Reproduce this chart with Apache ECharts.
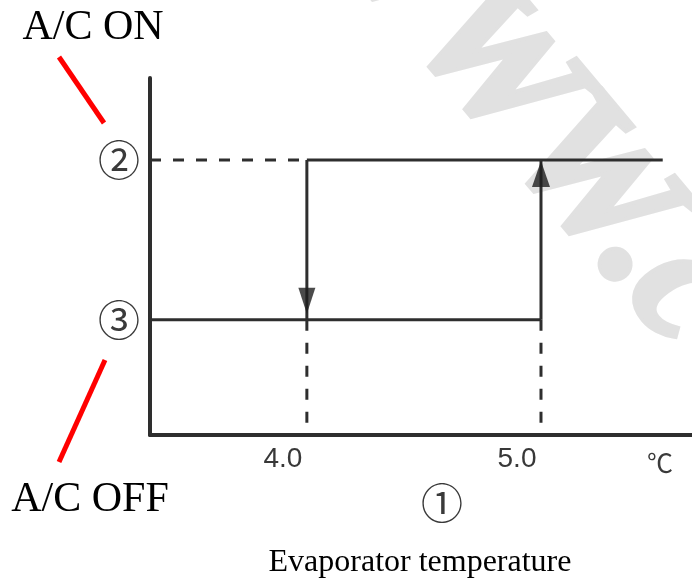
<!DOCTYPE html>
<html>
<head>
<meta charset="utf-8">
<script src="https://cdn.jsdelivr.net/npm/echarts@6/dist/echarts.min.js"></script>
<style>html,body{margin:0;padding:0;background:#fff}#c{width:692px;height:580px}</style>
</head>
<body>
<div id="c"></div>
<script>
// ---- data ----
const xTickValues = [4.0, 5.0];
const xTickLabels = ['4.0', '5.0'];
const xUnit = '℃';
const yStateValues = [0, 1];
const yStateLabels = ['③', '②'];
const xRange = [3.33, 5.645];
const yRange = [-0.72, 1.5125];
const onSolid = [[4.0, 1], [5.52, 1]];
const onDashed = [[3.33, 1], [4.0, 1]];
const offSolid = [[3.33, 0], [5.0, 0]];
const turnOff = [[4.0, 1], [4.0, 0]];
const turnOn = [[5.0, 0], [5.0, 1]];
const drop4 = [[4.0, 0], [4.0, -0.66]];
const drop5 = [[5.0, 0], [5.0, -0.66]];
const arrowDown = [[4.0, 0]];
const arrowUp = [[5.0, 1]];
const onLabel = 'A/C ON';
const offLabel = 'A/C OFF';
const xCaption = 'Evaporator temperature';
const xMarker = '①';
const watermark = 'WWW.c';

const ink = '#2e2e2e';
function seg(data, dashed) {
  return {
    type: 'line', data: data, symbol: 'none', silent: true, z: 3,
    lineStyle: { color: ink, width: 3, type: dashed ? [11, 12] : 'solid' },
    animation: false
  };
}
const chart = echarts.init(document.getElementById('c'), null, { renderer: 'canvas' });
chart.setOption({
  animation: false,
  grid: { left: 150, right: 0, top: 78, bottom: 145, containLabel: false },
  xAxis: {
    type: 'value', min: xRange[0], max: xRange[1],
    splitLine: { show: false },
    axisTick: { show: false },
    axisLine: { onZero: false, lineStyle: { color: ink, width: 4 } },
    axisLabel: {
      customValues: xTickValues,
      formatter: function (v) { const i = xTickValues.indexOf(v); return i >= 0 ? xTickLabels[i] : ''; },
      fontFamily: 'Liberation Sans', fontSize: 28, color: '#383838', margin: 10,
      padding: [0, 48, 0, 0]
    },
    name: xUnit, nameLocation: 'end', nameGap: -45,
    nameTextStyle: { fontFamily: 'Noto Sans CJK JP', fontSize: 26, color: '#3a3a3a', verticalAlign: 'top', lineHeight: 56 }
  },
  yAxis: {
    type: 'value', min: yRange[0], max: yRange[1],
    splitLine: { show: false },
    axisTick: { show: false },
    axisLine: { onZero: false, lineStyle: { color: ink, width: 4 } },
    axisLabel: {
      customValues: yStateValues,
      formatter: function (v) { const i = yStateValues.indexOf(v); return i >= 0 ? yStateLabels[i] : ''; },
      fontFamily: 'Noto Sans CJK JP', fontSize: 42, color: '#3a3a3a', margin: 10
    }
  },
  series: [
    seg(onDashed, true), seg(onSolid, false), seg(offSolid, false),
    seg(turnOff, false), seg(turnOn, false), seg(drop4, true), seg(drop5, true),
    { type: 'scatter', data: arrowDown, symbol: 'triangle', symbolSize: [17, 26], symbolRotate: 180,
      symbolOffset: [0, -19], itemStyle: { color: '#1e1e1e' }, z: 4, silent: true },
    { type: 'scatter', data: arrowUp, symbol: 'triangle', symbolSize: [18, 26],
      symbolOffset: [0, 14], itemStyle: { color: '#1e1e1e' }, z: 4, silent: true }
  ],
  graphic: [
    { type: 'text', z: 0, x: 278, y: -55, rotation: -50 * Math.PI / 180,
      style: { text: watermark, fill: '#e1e1e1', stroke: '#e1e1e1', lineWidth: 7, fontStyle: 'italic', fontWeight: 'bold', fontSize: 172, fontFamily: 'Liberation Serif', textAlign: 'left', textVerticalAlign: 'bottom' } },
    { type: 'text', z: 10, x: 93, y: 28, style: { text: onLabel, fill: '#000', font: '42px "Liberation Serif"', textAlign: 'center', textVerticalAlign: 'middle' } },
    { type: 'text', z: 10, x: 90, y: 500, style: { text: offLabel, fill: '#000', font: '42px "Liberation Serif"', textAlign: 'center', textVerticalAlign: 'middle' } },
    { type: 'line', z: 10, shape: { x1: 59, y1: 57, x2: 104, y2: 123 }, style: { stroke: '#ff0000', lineWidth: 5 } },
    { type: 'line', z: 10, shape: { x1: 105, y1: 360, x2: 59, y2: 462 }, style: { stroke: '#ff0000', lineWidth: 5 } },
    { type: 'text', z: 10, x: 442, y: 503, style: { text: xMarker, fill: '#3a3a3a', font: '42px "Noto Sans CJK JP"', textAlign: 'center', textVerticalAlign: 'middle' } },
    { type: 'text', z: 10, x: 420, y: 563, style: { text: xCaption, fill: '#000', font: '32px "Liberation Serif"', textAlign: 'center', textVerticalAlign: 'middle' } }
  ]
});
</script>
</body>
</html>
